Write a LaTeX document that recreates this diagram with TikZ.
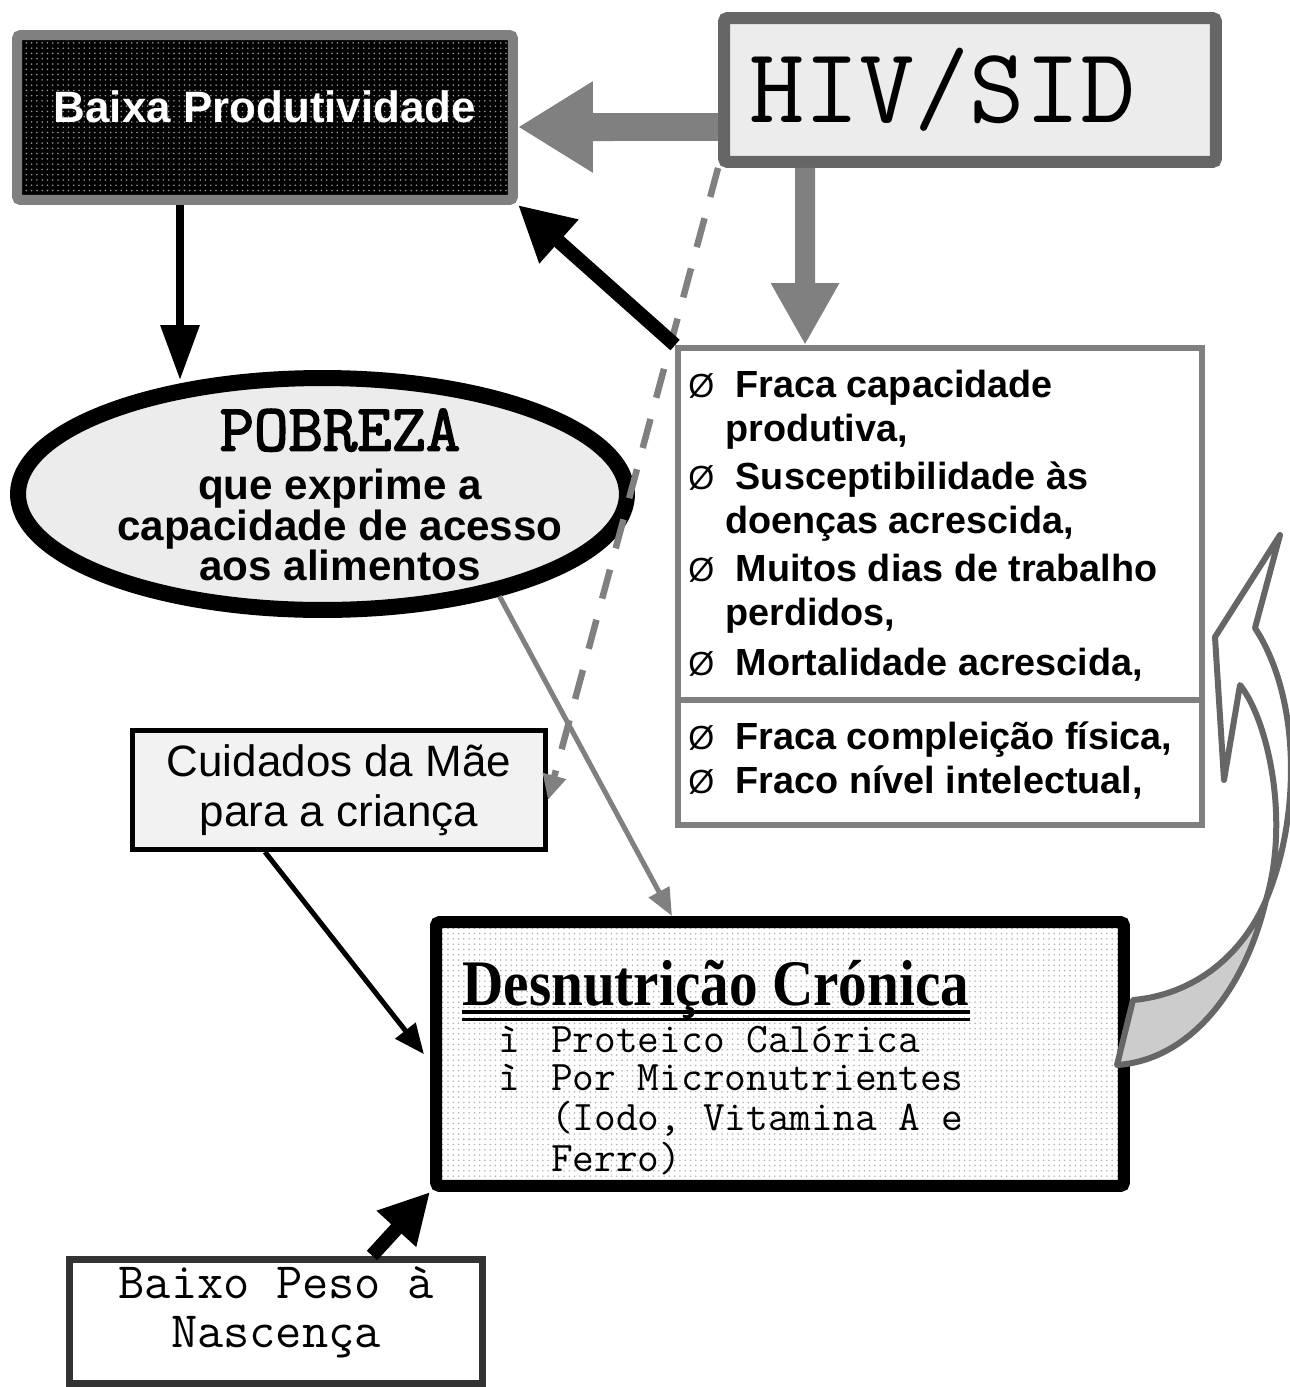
\documentclass[tikz,border=0pt]{standalone}
\usepackage{fontspec}
\setmainfont{Liberation Sans}
\newfontfamily\timesfont{Liberation Serif}[FakeStretch=0.88]
\newfontfamily\courierbold{Latin Modern Mono}[FakeBold=2.5]
\usepackage{tikz}
\usetikzlibrary{arrows.meta,positioning,shapes.geometric,patterns}

\newcommand{\marca}{{\mdseries\fontsize{19}{19}\selectfont Ø}}

\begin{document}
\begin{tikzpicture}[x=0.02cm,y=-0.02cm,
    caixa/.style={draw, rectangle, inner sep=0pt},
    lista/.style={anchor=north west, inner sep=0pt, font=\bfseries\fontsize{21.5}{25}\selectfont}]
  \useasboundingbox (0,0) rectangle (1290,1387);

  \node[caixa, draw=gray, line width=0.2cm, rounded corners=2pt, preaction={fill=black}, pattern=dots, pattern color=gray!80,
        minimum width=9.92cm, minimum height=3.3cm, text height=0.64cm, text depth=0.46cm,
        text=white, font=\bfseries\fontsize{25}{30}\selectfont] (baixa) at (265,117.5) {Baixa Produtividade};
  \node[caixa, draw=black!60, line width=0.24cm, rounded corners=2pt, fill=gray!15, align=left, text width=8.84cm,
        minimum width=9.84cm, minimum height=2.88cm, font=\ttfamily\fontsize{61}{62}\selectfont] (hiv) at (970,90) {HIV/SID};

  \node[ellipse, draw=black, line width=0.32cm, fill=gray!15, minimum width=12.18cm, minimum height=4.64cm, inner sep=0pt] (pobreza) at (322.5,494) {};
  \node[align=center, font=\bfseries\fontsize{24}{23}\selectfont] (pobrezatxt) at (340,495)
       {{\courierbold\fontsize{38}{36}\selectfont POBREZA}\\[5pt]que exprime a\\capacidade de acesso\\aos alimentos};

  \node[caixa, draw=black, line width=0.1cm, fill=gray!10, minimum width=8.26cm, minimum height=2.38cm,
        align=center, font=\fontsize{25}{28.4}\selectfont] (cuidados) at (339,790) {Cuidados da Mãe\\para a criança};

  \node[caixa, draw=gray, line width=0.12cm, fill=white, minimum width=10.48cm, minimum height=7.04cm] (efeitos) at (940,524) {};
  \node[caixa, draw=gray, line width=0.12cm, fill=white, minimum width=10.48cm, minimum height=2.5cm] (fisico) at (940,762.5) {};
  \node[lista] (listaa) at (688,366) {\begin{tabular}{@{}p{21pt}@{}l@{}}
      \marca & \ Fraca capacidade\\
             & produtiva,\\[2.5pt]
      \marca & \ Susceptibilidade às\\
             & doenças acrescida,\\[2.5pt]
      \marca & \ Muitos dias de trabalho\\
             & perdidos,\\[3.5pt]
      \marca & \ Mortalidade acrescida,
    \end{tabular}};
  \node[lista] (listab) at (688,718) {\begin{tabular}{@{}p{21pt}@{}l@{}}
      \marca & \ Fraca compleição física,\\
      \marca & \ Fraco nível intelectual,
    \end{tabular}};

  \node[caixa, draw=black, line width=0.24cm, rounded corners=2pt, preaction={fill=white}, pattern=dots, pattern color=gray!60,
        minimum width=13.76cm, minimum height=5.28cm] (desnut) at (780,1054) {};
  \node[anchor=base west, inner sep=0pt, font=\timesfont\bfseries\fontsize{37}{40}\selectfont] (titulo) at (462,1005) {Desnutrição Crónica};
  \draw[line width=0.08cm] ([yshift=-0.14cm]titulo.base west) -- ([yshift=-0.14cm]titulo.base east);
  \draw[line width=0.06cm] ([yshift=-0.28cm]titulo.base west) -- ([yshift=-0.28cm]titulo.base east);
  \node[anchor=north west, inner sep=0pt, font=\ttfamily\fontsize{24}{21.7}\selectfont] (itens) at (498,1025) {\begin{tabular}{@{}p{30pt}@{}l@{}}
      ì & Proteico Calórica\\
      ì & Por Micronutrientes\\
        & (Iodo, Vitamina A e\\
        & Ferro)
    \end{tabular}};

  \node[caixa, draw=black!80, line width=0.14cm, fill=white, minimum width=8.28cm, minimum height=2.48cm] (peso) at (276,1321) {};
  \node[align=center, font=\ttfamily\fontsize{29}{28}\selectfont] (pesotxt) at (276,1312) {Baixo Peso à\\Nascença};

  \draw[gray, line width=0.56cm, -{Triangle[length=1.5cm,width=1.72cm]}] ([yshift=-0.74cm]hiv.west) -- ([yshift=-0.19cm]baixa.east);
  \draw[gray, line width=0.4cm, -{Triangle[length=1.24cm,width=1.28cm]}] ([xshift=-3.3cm]hiv.south) -- ([xshift=-2.7cm]efeitos.north);
  \draw[gray, line width=0.13cm, dash pattern=on 0.6cm off 0.44cm, -{Triangle[length=0.5cm,width=0.45cm]}] (hiv.south west) -- ([yshift=-0.2cm]cuidados.east);
  \draw[line width=0.28cm, -{Triangle[length=1.1cm,width=1.1cm]}] (efeitos.north west) -- (baixa.south east);
  \draw[line width=0.16cm, shorten >=-0.2cm, -{Triangle[length=1.1cm,width=0.75cm]}] ([xshift=-1.7cm]baixa.south) -- ([xshift=-1.7cm]baixa.south |- pobreza.north);
  \draw[gray, line width=0.1cm, -{Triangle[length=0.55cm,width=0.45cm]}] (pobreza.-30) -- ([xshift=-2.16cm]desnut.north);
  \draw[line width=0.1cm, shorten >=0.2cm, -{Triangle[length=0.6cm,width=0.5cm]}] ([xshift=-1.48cm]cuidados.south) -- ([yshift=-0.16cm]desnut.west);
  \draw[line width=0.28cm, -{Triangle[length=1cm,width=1cm]}] ([xshift=1.92cm]peso.north) -- (desnut.south west);

  \draw[black!60, line width=0.12cm, fill=gray!40, line join=round] (1266,900) .. controls (1240,960) and (1190,995) .. (1133,1000)
       -- (1117,1065) .. controls (1190,1060) and (1245,990) .. cycle;
  \draw[black!60, line width=0.12cm, fill=white, line join=round] (1266,900) .. controls (1300,820) and (1302,700) .. (1255,628)
       -- (1280,535) -- (1215,637) -- (1224,780) -- (1240,685) .. controls (1268,720) and (1290,820) .. cycle;
\end{tikzpicture}
\end{document}
